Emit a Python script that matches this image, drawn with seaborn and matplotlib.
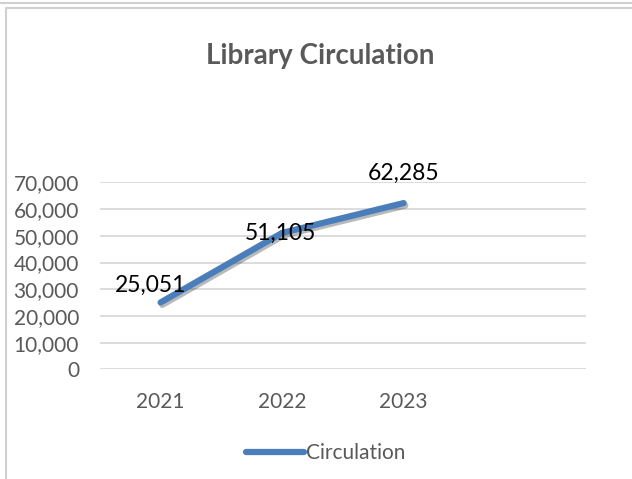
import pandas as pd
import seaborn as sns
import matplotlib.pyplot as plt
import matplotlib.patheffects as pe
from matplotlib.lines import Line2D

# --- Data ---
years = ['2021', '2022', '2023', '']
circulation = [25051, 51105, 62285, None]
y_ticks = [0, 10000, 20000, 30000, 40000, 50000, 60000, 70000]
label_offsets = [(-7, 12.5), (-1, -0.5), (0, 21.5)]  # points, per data label

GRAY = '#595959'
GRID = '#d9d9d9'
BLUE = '#4a7ebb'

sns.set_theme(style='white')
plt.rcParams['font.family'] = ['Lato', 'DejaVu Sans']

df = pd.DataFrame({'Year': years, 'Circulation': circulation})
df['pos'] = range(len(df))

fig = plt.figure(figsize=(6.32, 4.79), dpi=100)
ax = fig.add_axes([0.158, 0.229, 0.769, 0.390])

sns.lineplot(data=df.dropna(), x='pos', y='Circulation', ax=ax, color=BLUE,
             linewidth=4.5, solid_capstyle='round', legend=False,
             path_effects=[pe.SimpleLineShadow(offset=(1.2, -1.8), alpha=0.3, shadow_color='k'),
                           pe.Normal()])

ax.set_xlim(-0.5, len(years) - 0.5)
ax.set_ylim(0, 70000)
ax.set_xticks(df['pos'])
ax.set_xticklabels(years)
ax.set_yticks(y_ticks)
ax.set_yticklabels([f'{v:,}' for v in y_ticks])
ax.tick_params(axis='both', colors=GRAY, labelsize=15, length=0)
ax.tick_params(axis='x', pad=16)
ax.tick_params(axis='y', pad=15)
ax.set_xlabel('')
ax.set_ylabel('')
for s in ax.spines.values():
    s.set_visible(False)
ax.yaxis.grid(True, color=GRID, linewidth=1.3)
ax.set_axisbelow(True)

# data labels
for i, v in enumerate(circulation[:3]):
    dx, dy = label_offsets[i]
    ax.annotate(f'{v:,}', (i, v), xytext=(dx, dy), textcoords='offset points',
                ha='center', va='center', fontsize=16.5, color='black')

# title
fig.text(0.506, 0.883, 'Library Circulation', ha='center', va='center',
         fontsize=20, fontweight='bold', color=GRAY)

# legend
handle = Line2D([], [], color=BLUE, linewidth=4.5, solid_capstyle='round')
leg = fig.legend([handle], ['Circulation'], loc='center', bbox_to_anchor=(0.515, 0.054),
                 frameon=False, fontsize=15, handlelength=2.8, handletextpad=0.1)
for t in leg.get_texts():
    t.set_color(GRAY)

# chart frame
fig.add_artist(Line2D([0, 1], [1 - 3 / 479, 1 - 3 / 479], transform=fig.transFigure,
                      color='#d0d0d0', linewidth=1.5))
fig.add_artist(Line2D([6 / 632, 6 / 632, 1], [0, 1 - 8 / 479, 1 - 8 / 479],
                      transform=fig.transFigure, color='#d0d0d0', linewidth=1.5))

fig.savefig('out.png', dpi=100)
